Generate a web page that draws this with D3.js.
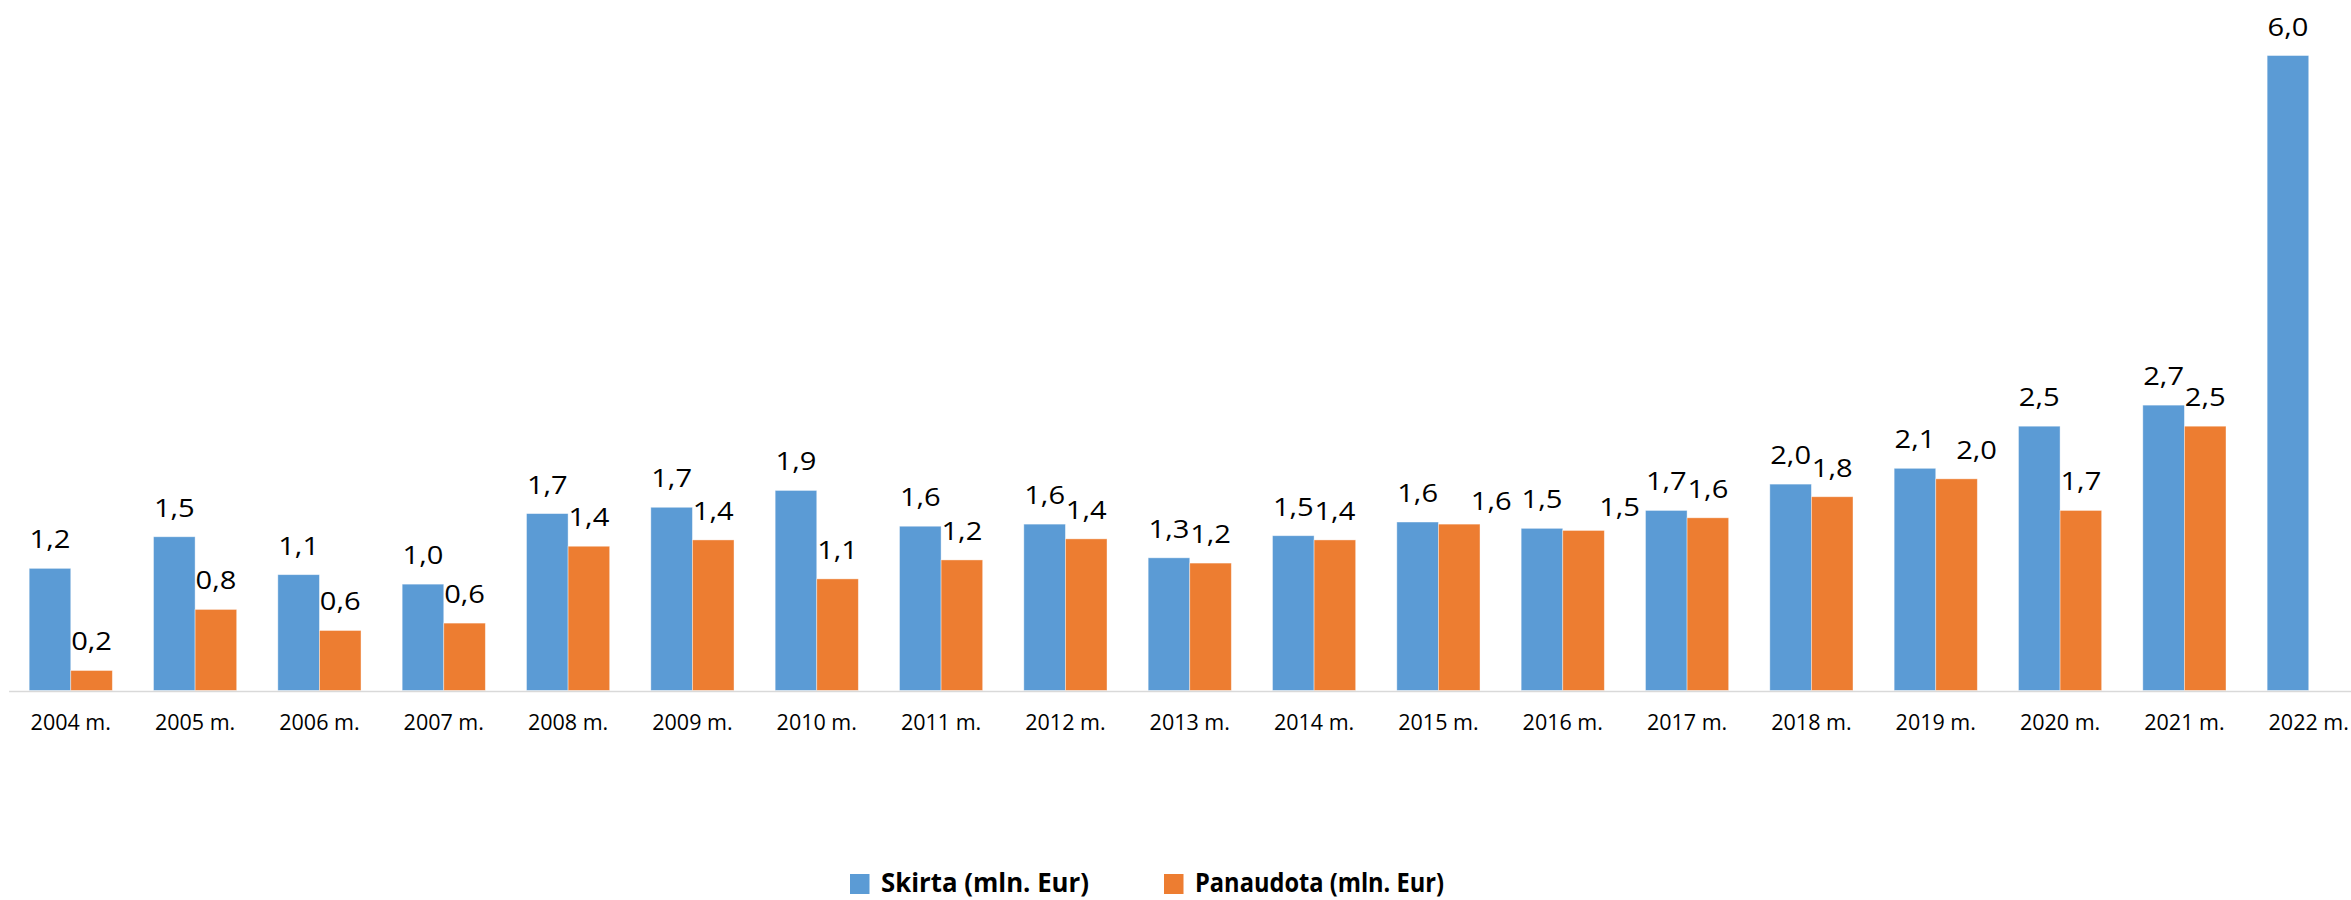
<!DOCTYPE html>
<html>
<head>
<meta charset="utf-8">
<script src="https://cdn.jsdelivr.net/npm/d3@7"></script>
<style>
  body { margin: 0; background: #fff; overflow: hidden; }
  svg { display: block; }
  svg text { font-family: "Open Sans", Lato, sans-serif; fill: #000; }
</style>
</head>
<body>
<div id="chart"></div>
<script>

var years = ['2004 m.', '2005 m.', '2006 m.', '2007 m.', '2008 m.', '2009 m.', '2010 m.',
  '2011 m.', '2012 m.', '2013 m.', '2014 m.', '2015 m.', '2016 m.', '2017 m.', '2018 m.',
  '2019 m.', '2020 m.', '2021 m.', '2022 m.'];

// Skirta (mln. Eur)
var skirta = [1.16, 1.46, 1.10, 1.01, 1.68, 1.74, 1.90, 1.56, 1.58, 1.26, 1.47, 1.60, 1.54,
  1.71, 1.96, 2.11, 2.51, 2.71, 6.03];

// Panaudota (mln. Eur), nothing for 2022 yet
var panaudota = [0.19, 0.77, 0.57, 0.64, 1.37, 1.43, 1.06, 1.24, 1.44, 1.21, 1.43, 1.58, 1.52,
  1.64, 1.84, 2.01, 1.71, 2.51, null];

var seriesNames = ['Skirta (mln. Eur)', 'Panaudota (mln. Eur)'];
var colors = ['#5b9bd5', '#ed7d31'];

var width = 2351;
var height = 900;

// a few labels were dragged aside in the original
var labelNudge = {
  '2015 m.|1': [32, 6],
  '2016 m.|1': [36, 6],
  '2019 m.|1': [20, 0]
};

function drawChart() {
  var svg = d3.select('#chart').append('svg')
    .attr('width', width)
    .attr('height', height);

  var baseY = 690.5;

  var x0 = d3.scaleBand()
    .domain(years)
    .range([8.6, 2370.9])
    .paddingInner(0.331)
    .paddingOuter(0.1655);

  var x1 = d3.scaleBand()
    .domain([0, 1])
    .range([0, x0.bandwidth()]);

  var y = d3.scaleLinear()
    .domain([0, 6.5])
    .range([baseY, baseY - 6.5 * 105.3]);

  var fmt = d3.format('.1f');

  var rows = [];
  years.forEach(function (yr, i) {
    [skirta[i], panaudota[i]].forEach(function (v, s) {
      if (v != null) rows.push({ year: yr, series: s, value: v });
    });
  });

  var bars = svg.append('g').attr('class', 'bars');
  bars.selectAll('rect')
    .data(rows)
    .enter()
    .append('rect')
    .attr('x', function (d) { return x0(d.year) + x1(d.series); })
    .attr('y', function (d) { return y(d.value); })
    .attr('width', x1.bandwidth())
    .attr('height', function (d) { return baseY - y(d.value); })
    .attr('fill', function (d) { return colors[d.series]; })
    .attr('stroke', '#fff')
    .attr('stroke-opacity', 0.5)
    .attr('stroke-width', 0.8);

  // x axis, line runs off the right edge like in the original
  var axis = svg.append('g')
    .attr('transform', 'translate(0,' + (baseY + 0.5) + ')')
    .call(d3.axisBottom(x0).tickSize(0).tickSizeOuter(0).tickPadding(23.4));
  axis.select('.domain').attr('stroke', '#d9d9d9').attr('stroke-width', 1.5);
  axis.selectAll('text')
    .style('font-family', '"Open Sans", Lato, sans-serif')
    .attr('font-size', 21.5)
    .attr('fill', '#000');

  // value labels (slightly wide glyphs in the original)
  svg.append('g').attr('class', 'labels')
    .selectAll('text')
    .data(rows)
    .enter()
    .append('text')
    .attr('text-anchor', 'middle')
    .attr('font-size', 26)
    .attr('transform', function (d) {
      var n = labelNudge[d.year + '|' + d.series];
      var lx = x0(d.year) + x1(d.series) + x1.bandwidth() / 2 + (n ? n[0] : 0);
      var ly = y(d.value) - 20 + (n ? n[1] : 0);
      return 'translate(' + lx + ',' + ly + ') scale(1.12,1)';
    })
    .text(function (d) { return fmt(d.value).replace('.', ','); });

  // legend
  var legendX = [850, 1164];
  var legendW = [208, 249];
  var legend = svg.append('g').attr('class', 'legend');
  seriesNames.forEach(function (name, i) {
    legend.append('rect')
      .attr('x', legendX[i])
      .attr('y', 874)
      .attr('width', 19.5)
      .attr('height', 20)
      .attr('fill', colors[i]);
    legend.append('text')
      .attr('x', legendX[i] + 31)
      .attr('y', 892)
      .attr('font-size', 27)
      .attr('font-weight', 'bold')
      .attr('textLength', legendW[i])
      .attr('lengthAdjust', 'spacingAndGlyphs')
      .text(name);
  });
}

drawChart();
</script>
</body>
</html>
